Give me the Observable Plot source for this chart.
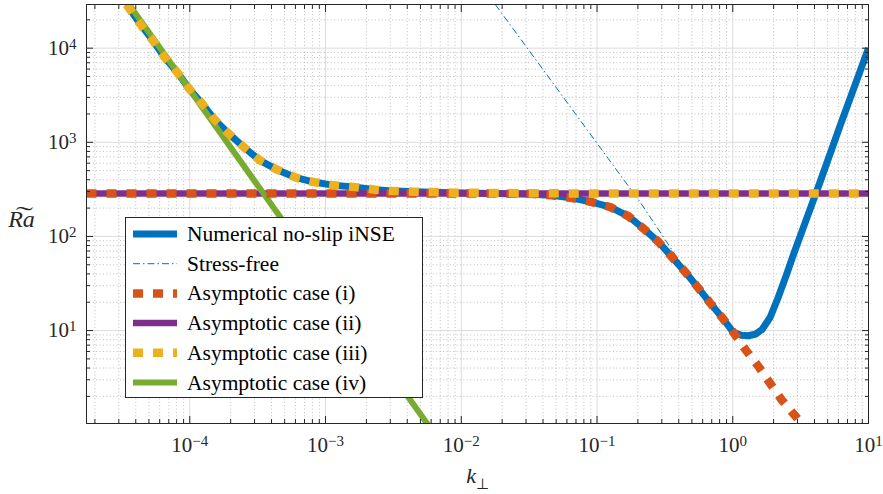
<!DOCTYPE html>
<html>
<head>
<meta charset="utf-8">
<script src="https://cdn.jsdelivr.net/npm/d3@7"></script>
<script src="https://cdn.jsdelivr.net/npm/@observablehq/plot@0.6"></script>
<style>
  body { margin: 0; background: #fff; }
  #wrap { position: relative; width: 883px; height: 494px; font-family: "Liberation Serif", "Times New Roman", serif; }
  #legend { position: absolute; left: 125px; top: 217px; }
</style>
</head>
<body>
<div id="wrap"></div>
<script>
// ---------- data ----------
const seriesNames = [
  "Numerical no-slip iNSE",
  "Stress-free",
  "Asymptotic case (i)",
  "Asymptotic case (ii)",
  "Asymptotic case (iii)",
  "Asymptotic case (iv)"
];

const numericalK = [3.42e-5, 3.555e-5, 4.335e-5, 5.34e-5, 6.51e-5, 8.07e-5, 9.90e-5, 1.234e-4, 1.520e-4, 1.937e-4,
  2.497e-4, 3.277e-4, 4.40e-4, 6.07e-4, 8.19e-4, 1.149e-3, 1.661e-3, 2.331e-3, 3.27e-3, 4.44e-3,
  8.75e-3, 0.01638, 0.03228, 0.04662, 0.06545, 0.09188, 0.1253, 0.1709, 0.2203, 0.2842,
  0.3566, 0.4468, 0.5544, 0.6830, 0.8470, 1.0085, 1.155, 1.300, 1.465, 1.649,
  1.888, 2.163, 2.477, 2.838, 3.420, 4.410, 6.19, 10];
const numericalRa = [29100, 26850, 17850, 12070, 8025, 5563, 3707, 2570, 1751, 1234,
  889, 643, 512, 421, 378, 349, 334, 314, 303, 299,
  292, 286, 281, 273, 256, 232, 205, 163.5, 121, 87.2,
  60.4, 41.9, 28.6, 19.6, 13.4, 9.60, 8.91, 8.81, 9.13, 10.32,
  13.84, 22.6, 38.6, 67.8, 141, 384, 1511, 10000];

const stressFreeK  = [0.01782, 0.0753, 0.2084, 0.4105, 0.4468];
const stressFreeRa = [29100, 1708, 230, 53.1, 41.9];

const caseIK  = [1.734e-5, 0.02, 0.03228, 0.04662, 0.06545, 0.09188, 0.1253, 0.1709, 0.2203, 0.2842,
  0.3566, 0.4468, 0.5544, 0.6830, 0.8470, 1.0085, 1.251, 1.567, 1.888, 2.303, 2.891, 3.42];
const caseIRa = [285, 285, 284, 273, 256, 232, 205, 163.5, 121, 87.2,
  60.4, 41.9, 28.6, 19.6, 13.4, 9.6, 6.18, 4.05, 2.74, 1.82, 1.24, 0.918];

const caseIIK  = [1.734e-5, 10];
const caseIIRa = [285, 285];

const caseIIIK  = [3.42e-5, 3.555e-5, 4.335e-5, 5.34e-5, 6.51e-5, 8.07e-5, 9.90e-5, 1.234e-4, 1.520e-4, 1.937e-4,
  2.497e-4, 3.277e-4, 4.40e-4, 6.07e-4, 8.19e-4, 1.149e-3, 1.661e-3, 2.331e-3, 3.27e-3, 4.44e-3,
  8.75e-3, 0.01638, 0.03228, 0.1057, 10];
const caseIIIRa = [29100, 26850, 17850, 12070, 8025, 5563, 3707, 2570, 1751, 1234,
  889, 643, 512, 421, 378, 349, 334, 314, 303, 299,
  292, 289.5, 287.5, 286, 285];

const caseIVK  = [3.4e-5, 5.98e-3];
const caseIVRa = [32100, 0.9];

const xTickValues = [1e-4, 1e-3, 1e-2, 1e-1, 1, 10];
const xTickLabels = ["10^−4", "10^−3", "10^−2", "10^−1", "10^0", "10^1"];
const yTickValues = [10, 100, 1000, 10000];
const yTickLabels = ["10^1", "10^2", "10^3", "10^4"];
const xLabel = "k⊥";
const yLabel = "R\u0360a";   // R͠a : Ra with a wide tilde

// ---------- styling ----------
const colors = ["#0072BD", "#0072BD", "#D95319", "#7E2F8E", "#EDB120", "#77AC30"];
const widths = [7, 1, 8.5, 6.5, 8.5, 6];
const dashes = [null, "7,3,1.5,3", "10,10", null, "10,10", null];
const fontFamily = '"Liberation Serif", "Times New Roman", serif';
const axisColor = "#262626";
const xDomain = [1.734e-5, 10];
const yDomain = [1.03, 29100];

const toRows = (K, R) => K.map((k, i) => ({k, Ra: R[i]}));
const rows = [
  toRows(numericalK, numericalRa),
  toRows(stressFreeK, stressFreeRa),
  toRows(caseIK, caseIRa),
  toRows(caseIIK, caseIIRa),
  toRows(caseIIIK, caseIIIRa),
  toRows(caseIVK, caseIVRa)
];

function minorTicks(lo, hi) {
  const out = [];
  for (let d = Math.floor(Math.log10(lo)); d <= Math.ceil(Math.log10(hi)); d++)
    for (let m = 2; m <= 9; m++) {
      const v = m * Math.pow(10, d);
      if (v > lo && v < hi) out.push(v);
    }
  return out;
}
const minorX = minorTicks(...xDomain);
const minorY = minorTicks(...yDomain);

const lineMark = (i) => Plot.line(rows[i], {
  x: "k", y: "Ra", stroke: colors[i], strokeWidth: widths[i],
  strokeDasharray: dashes[i], strokeLinecap: "butt",
  strokeLinejoin: dashes[i] ? "miter" : "round", clip: true
});

const xFmt = (v) => xTickLabels[xTickValues.indexOf(v)];
const yFmt = (v) => yTickLabels[yTickValues.indexOf(v)];
const blank = () => "";

const svg = Plot.plot({
  width: 883,
  height: 494,
  marginLeft: 86,
  marginRight: 15,
  marginTop: 4,
  marginBottom: 71,
  style: { fontFamily, fontSize: "21px", background: "white", color: axisColor, overflow: "visible" },
  x: { type: "log", domain: xDomain },
  y: { type: "log", domain: yDomain },
  marks: [
    Plot.gridX(minorX, { stroke: "#bdbdbd", strokeOpacity: 1, strokeDasharray: "1,2.4" }),
    Plot.gridY(minorY, { stroke: "#bdbdbd", strokeOpacity: 1, strokeDasharray: "1,2.4" }),
    Plot.gridX(xTickValues, { stroke: "#dcdcdc", strokeOpacity: 1 }),
    Plot.gridY(yTickValues, { stroke: "#dcdcdc", strokeOpacity: 1 }),
    lineMark(0),
    lineMark(1),
    lineMark(3),
    lineMark(5),
    lineMark(2),
    lineMark(4),
    Plot.frame({ stroke: axisColor, strokeWidth: 1 }),
    // inward ticks on all four sides
    Plot.axisX(xTickValues, { anchor: "bottom", tickSize: -7, tickFormat: blank, label: null, color: axisColor }),
    Plot.axisX(minorX, { anchor: "bottom", tickSize: -4, tickFormat: blank, label: null, color: axisColor }),
    Plot.axisX(xTickValues, { anchor: "top", tickSize: -7, tickFormat: blank, label: null, color: axisColor }),
    Plot.axisX(minorX, { anchor: "top", tickSize: -4, tickFormat: blank, label: null, color: axisColor }),
    Plot.axisY(yTickValues, { anchor: "left", tickSize: -7, tickFormat: blank, label: null, color: axisColor }),
    Plot.axisY(minorY, { anchor: "left", tickSize: -4, tickFormat: blank, label: null, color: axisColor }),
    Plot.axisY(yTickValues, { anchor: "right", tickSize: -7, tickFormat: blank, label: null, color: axisColor }),
    Plot.axisY(minorY, { anchor: "right", tickSize: -4, tickFormat: blank, label: null, color: axisColor }),
    // tick labels
    Plot.axisX(xTickValues, { anchor: "bottom", tickSize: 0, tickPadding: 13.5, tickFormat: xFmt, label: null, fontSize: 21, color: axisColor }),
    Plot.axisY(yTickValues, { anchor: "left", tickSize: 0, tickPadding: 10, tickFormat: yFmt, label: null, fontSize: 21, color: axisColor }),
    // axis titles
    Plot.text([xLabel], { frameAnchor: "bottom", lineAnchor: "middle", text: d => d, dy: 52, fontSize: 22, textAnchor: "middle", fill: axisColor }),
    Plot.text([yLabel], { frameAnchor: "left", lineAnchor: "middle", text: d => d, dx: -65, dy: 5, fontSize: 24, fontStyle: "italic", textAnchor: "middle", fill: axisColor })
  ]
});

const wrap = document.getElementById("wrap");
wrap.appendChild(svg);

// rich-text fixes: superscripts, italic/subscript label
d3.select(svg).selectAll("text").each(function () {
  const t = this.textContent;
  const s = d3.select(this);
  const m = /^10\^(.+)$/.exec(t);
  if (m) {
    s.text(null);
    s.append("tspan").text("10");
    s.append("tspan").attr("dy", "-6").attr("font-size", "15").text(m[1]);
  } else if (t === xLabel) {
    s.text(null);
    s.append("tspan").attr("font-style", "italic").text(xLabel.slice(0, 1));
    s.append("tspan").attr("dy", "6").attr("font-size", "15").text(xLabel.slice(1));
  }
});

// legend (inside the axes, drawn on top)
const lg = d3.select(wrap).append("svg")
  .attr("id", "legend")
  .attr("width", 299).attr("height", 182);
lg.append("rect").attr("x", 0.5).attr("y", 0.5).attr("width", 297).attr("height", 180)
  .attr("fill", "white").attr("stroke", axisColor).attr("stroke-width", 1);
seriesNames.forEach((name, i) => {
  const cy = 17 + i * 29.7;
  lg.append("line").attr("x1", 8).attr("x2", 52).attr("y1", cy).attr("y2", cy)
    .attr("stroke", colors[i]).attr("stroke-width", widths[i])
    .attr("stroke-dasharray", dashes[i] ? (i === 1 ? "7,3,1.5,3" : "10,10") : null);
  lg.append("text").attr("x", 62).attr("y", cy + 7)
    .attr("font-family", fontFamily).attr("font-size", 21.5).attr("fill", "#000")
    .text(name);
});
</script>
</body>
</html>
